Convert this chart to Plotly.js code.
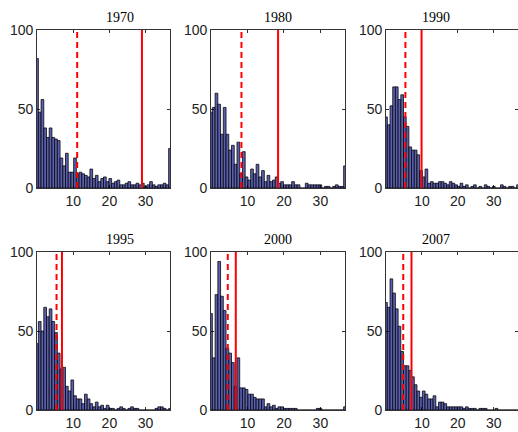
<!DOCTYPE html>
<html>
<head>
<meta charset="utf-8">
<script src="https://cdn.plot.ly/plotly-3.0.1.min.js"></script>
<style>html,body{margin:0;padding:0;background:#fff;overflow:hidden;}</style>
</head>
<body>
<div id="chart" style="width:518px;height:432px;"></div>
<script>
// Panel titles
const years = ["1970", "1980", "1990", "1995", "2000", "2007"];
// Histogram bin width (x units) and bin count
const binWidth = 0.75;
const nBins = 50;
// Bin counts per panel
const y1970 = [82,48,56,38,32,38,32,31,30,19,14,22,10,10,19,9,10,9,8,7,12,6,8,4,6,7,4,6,3,4,5,2,2,3,4,2,2,3,2,3,1,2,4,2,1,2,2,3,2,25];
const y1980 = [48,51,60,53,34,51,34,24,27,15,29,9,23,7,5,12,9,15,7,11,4,8,4,5,7,3,4,2,2,2,4,2,2,0,0,3,2,2,2,2,2,0,1,1,0,1,2,1,1,14];
const y1990 = [45,40,52,64,64,56,59,45,39,26,24,24,21,11,7,12,3,4,3,3,4,4,3,2,4,3,2,1,3,1,2,0,1,2,0,1,0,2,1,0,1,0,0,2,1,0,1,1,0,2];
const y1995 = [42,56,50,65,59,64,56,49,36,26,27,15,12,19,9,7,7,4,10,7,4,2,5,2,3,1,3,1,1,0,1,2,1,0,1,2,1,1,0,0,0,0,0,0,1,2,2,1,0,1];
const y2000 = [61,33,73,94,72,63,39,36,30,15,33,14,14,13,10,10,8,7,7,7,2,4,2,3,1,2,2,1,1,1,1,1,0,0,0,0,0,0,0,1,1,0,0,0,0,0,0,0,0,2];
const y2007 = [68,65,83,74,64,53,37,28,28,25,21,16,12,8,12,10,7,7,9,2,5,5,4,2,2,2,2,2,2,1,2,1,1,1,0,1,1,1,0,0,0,1,0,0,0,0,0,0,0,0];
// Vertical reference lines (x values)
const dashedX = [11.1, 8.35, 5.4, 5.4, 4.6, 4.8];
const solidX  = [29.0, 18.4, 9.9, 6.9, 6.8, 7.1];
// Axis ticks
const xTicks = [10, 20, 30];
const yTicks = [0, 50, 100];

const series = [y1970, y1980, y1990, y1995, y2000, y2007];
const binCenters = Array.from({length: nBins}, (_, k) => k * binWidth);

const W = 518, H = 432;
const colPx = [[37, 170], [211, 345], [386, 518]];
const rowPx = [[30, 188], [252, 410]];

const tickFont = {family: 'Liberation Sans, Arial, sans-serif', size: 14, color: '#222222'};
const traces = [];
const layout = {
  width: W, height: H,
  margin: {l: 0, r: 0, t: 0, b: 0, autoexpand: false},
  paper_bgcolor: '#ffffff', plot_bgcolor: '#ffffff',
  showlegend: false, bargap: 0,
  font: tickFont,
  shapes: [], annotations: []
};

series.forEach((vals, i) => {
  const r = Math.floor(i / 3), c = i % 3;
  const n = i + 1;
  const xa = 'xaxis' + (n === 1 ? '' : n), ya = 'yaxis' + (n === 1 ? '' : n);
  const xr = 'x' + (n === 1 ? '' : n), yr = 'y' + (n === 1 ? '' : n);
  traces.push({
    type: 'bar', x: binCenters, y: vals, width: binWidth,
    xaxis: xr, yaxis: yr,
    marker: {color: '#5a5fae', line: {color: '#000000', width: 0.75}},
    hoverinfo: 'skip'
  });
  const xd = [colPx[c][0] / W, colPx[c][1] / W];
  const yd = [1 - rowPx[r][1] / H, 1 - rowPx[r][0] / H];
  layout[xa] = {
    domain: xd, anchor: yr, range: [0, (nBins - 1) * binWidth],
    tickvals: xTicks, ticktext: xTicks.map(String),
    ticks: 'inside', ticklen: 3, tickcolor: '#000', tickwidth: 0.8,
    showline: true, linecolor: '#000', linewidth: 0.8, mirror: 'ticks',
    showgrid: false, zeroline: false, fixedrange: true,
    tickfont: tickFont
  };
  layout[ya] = {
    domain: yd, anchor: xr, range: [0, 100],
    tickvals: yTicks, ticktext: yTicks.map(String),
    ticks: 'inside', ticklen: 3, tickcolor: '#000', tickwidth: 0.8,
    showline: true, linecolor: '#000', linewidth: 0.8, mirror: 'ticks',
    showgrid: false, zeroline: false, fixedrange: true,
    tickfont: tickFont
  };
  layout.shapes.push({
    type: 'line', xref: xr, yref: yr + ' domain',
    x0: dashedX[i], x1: dashedX[i], y0: 0, y1: 1,
    line: {color: '#ff0000', width: 2, dash: '6px,4px'}
  });
  layout.shapes.push({
    type: 'line', xref: xr, yref: yr + ' domain',
    x0: solidX[i], x1: solidX[i], y0: 0, y1: 1,
    line: {color: '#ff0000', width: 2}
  });
  layout.annotations.push({
    text: years[i], xref: 'paper', yref: 'paper',
    x: (xd[0] + xd[1]) / 2, y: yd[1], yanchor: 'bottom', yshift: 3,
    showarrow: false,
    font: {family: 'Liberation Serif, Times New Roman, serif', size: 14, color: '#000'}
  });
});

Plotly.newPlot('chart', traces, layout, {staticPlot: true, displayModeBar: false});
</script>
</body>
</html>
